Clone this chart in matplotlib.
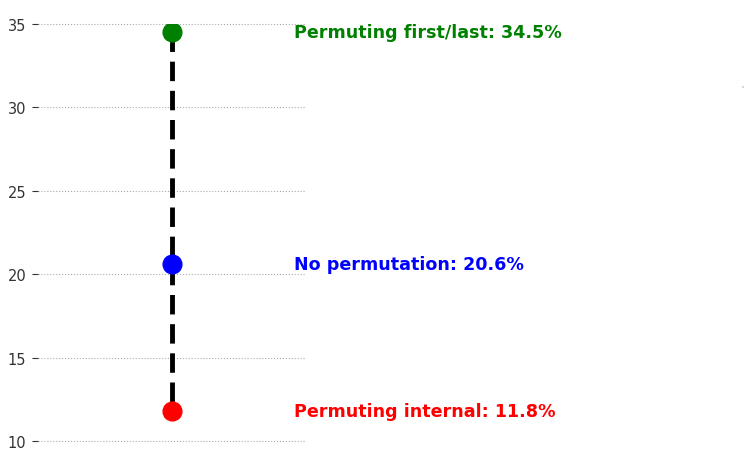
import matplotlib
matplotlib.use("Agg")
import matplotlib.pyplot as plt

labels = ["Permuting first/last", "No permutation", "Permuting internal"]
values = [34.5, 20.6, 11.8]
colors = ["green", "blue", "red"]
yticks = [10, 15, 20, 25, 30, 35]

fig = plt.figure(figsize=(7.48, 4.56), dpi=100)
ax = fig.add_axes([38 / 748, 1 - 442 / 456, (305 - 38) / 748, (442 - 25) / 456])

ax.plot([0] * len(values), values, color="black", lw=3.5, dashes=(4, 2), zorder=2)
for lab, v, c in zip(labels, values, colors):
    ax.plot(0, v, "o", color=c, ms=13.5, zorder=3)
    ax.text(0.92, v, f"{lab}: {v}%", color=c, fontsize=12.6, fontweight="bold",
            va="center", ha="left", clip_on=False)

ax.set_xlim(-1, 1)
ax.set_ylim(10, 35)
ax.set_yticks(yticks)
ax.set_xticks([])
ax.yaxis.grid(True, linestyle=":", color="#aaaaaa", lw=0.8)
for gl in ax.get_ygridlines():
    gl.set_clip_on(False)
for s in ax.spines.values():
    s.set_visible(False)
ax.tick_params(axis="y", labelsize=10.5, length=4.5, pad=4, colors="#333333")

# faint stray dot at the right edge of the figure
fig.text(743 / 748, 1 - 88 / 456, "\u2022", color="#cccccc", fontsize=5,
         ha="center", va="center")

fig.savefig("out.png", dpi=100)
